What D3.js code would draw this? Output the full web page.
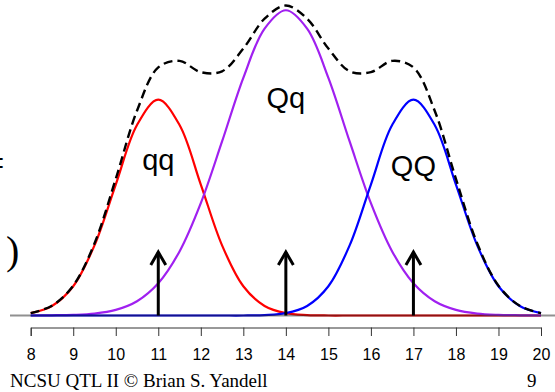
<!DOCTYPE html>
<html>
<head>
<meta charset="utf-8">
<script src="https://cdn.jsdelivr.net/npm/d3@7"></script>
<style>
  body { margin: 0; background: #fff; }
  svg { display: block; }
</style>
</head>
<body>
<svg width="555" height="392"></svg>
<script>
// genotype densities, x = 8..20 in steps of 0.5
var xs = [8, 8.5, 9, 9.5, 10, 10.5, 11, 11.5, 12, 12.5, 13, 13.5, 14,
          14.5, 15, 15.5, 16, 16.5, 17, 17.5, 18, 18.5, 19, 19.5, 20];
var qqDens = [0.0011, 0.0044, 0.0135, 0.0324, 0.0605, 0.0880, 0.0997, 0.0880, 0.0605, 0.0324, 0.0135, 0.0044, 0.0011,
              0.0002, 0, 0, 0, 0, 0, 0, 0, 0, 0, 0, 0];
var QqDens = [0.0000, 0.0001, 0.0003, 0.0009, 0.0026, 0.0066, 0.0149, 0.0296, 0.0519, 0.0804, 0.1098, 0.1325, 0.1410,
              0.1325, 0.1098, 0.0804, 0.0519, 0.0296, 0.0149, 0.0066, 0.0026, 0.0009, 0.0003, 0.0001, 0.0000];
var QQDens = [0, 0, 0, 0, 0, 0, 0, 0, 0, 0, 0, 0.0002, 0.0011,
              0.0044, 0.0135, 0.0324, 0.0605, 0.0880, 0.0997, 0.0880, 0.0605, 0.0324, 0.0135, 0.0044, 0.0011];
var totalDens = [0.0011, 0.0045, 0.0138, 0.0333, 0.0631, 0.0946, 0.1146, 0.1176, 0.1124, 0.1128, 0.1233, 0.1371, 0.1432,
                 0.1371, 0.1233, 0.1128, 0.1124, 0.1176, 0.1146, 0.0946, 0.0631, 0.0333, 0.0138, 0.0045, 0.0011];

var genoNames = ["qq", "Qq", "QQ"];
var genoMeans = [11, 14, 17];
var arrowHeight = 0.0293;
var xTicks = [8, 9, 10, 11, 12, 13, 14, 15, 16, 17, 18, 19, 20];

var svg = d3.select("svg");

var x = d3.scaleLinear().domain([8, 20]).range([30.7, 541]);
var y = d3.scaleLinear().domain([0, 0.145]).range([315.5, 1.6]);

var line = d3.line()
    .x(function (d, i) { return x(xs[i]); })
    .y(function (d) { return Math.min(y(0), y(d)); })
    .curve(d3.curveCatmullRom.alpha(0.5));

var curves = [
    { vals: qqDens, color: "#ff0000" },
    { vals: QqDens, color: "#a020f0" },
    { vals: QQDens, color: "#0000ff" }
];

svg.selectAll(".dens")
    .data(curves)
    .enter().append("path")
    .attr("class", "dens")
    .attr("d", function (d) { return line(d.vals); })
    .attr("fill", "none")
    .attr("stroke", function (d) { return d.color; })
    .attr("stroke-width", 2.2);

// mixture total, dashed
svg.append("path")
    .attr("d", line(totalDens))
    .attr("fill", "none")
    .attr("stroke", "#000")
    .attr("stroke-width", 2.4)
    .attr("stroke-dasharray", "9,5");

// zero line
svg.append("line")
    .attr("x1", 10).attr("x2", 555)
    .attr("y1", y(0)).attr("y2", y(0))
    .attr("stroke", "#222")
    .attr("stroke-opacity", 0.5)
    .attr("stroke-width", 2);

// arrows at the genotype means
var arrows = svg.selectAll(".arrow")
    .data(genoMeans)
    .enter().append("g")
    .attr("class", "arrow");

arrows.append("line")
    .attr("x1", function (d) { return x(d); })
    .attr("x2", function (d) { return x(d); })
    .attr("y1", y(0))
    .attr("y2", y(arrowHeight))
    .attr("stroke", "#000")
    .attr("stroke-width", 3);

arrows.append("path")
    .attr("d", function (d) {
        var cx = x(d), ty = y(arrowHeight);
        return "M" + (cx - 7.5) + "," + (ty + 13) + "L" + cx + "," + ty + "L" + (cx + 7.5) + "," + (ty + 13);
    })
    .attr("fill", "none")
    .attr("stroke", "#000")
    .attr("stroke-width", 3);

// genotype labels
var labelBase = [170, 108, 176];
svg.selectAll(".glab")
    .data(genoNames)
    .enter().append("text")
    .attr("class", "glab")
    .attr("x", function (d, i) { return x(genoMeans[i]); })
    .attr("y", function (d, i) { return labelBase[i]; })
    .attr("text-anchor", "middle")
    .attr("font-family", "Liberation Sans, Arial, sans-serif")
    .attr("font-size", 29)
    .attr("fill", "#000")
    .text(function (d) { return d; });

// x axis
var gx = svg.append("g")
    .attr("transform", "translate(0,327.5)")
    .call(d3.axisBottom(x).tickValues(xTicks).tickFormat(d3.format("d"))
        .tickSizeOuter(0).tickSize(8.5).tickPadding(12.5));
gx.selectAll("path, line").attr("stroke", "#333");
gx.selectAll("text")
    .attr("font-family", "Liberation Sans, Arial, sans-serif")
    .attr("font-size", 16)
    .attr("fill", "#000");

// bits of slide text cut off at the left edge
svg.append("text")
    .attr("x", -18).attr("y", 177)
    .attr("font-family", "Liberation Serif, Times New Roman, serif")
    .attr("font-size", 40)
    .text("=");
svg.append("text")
    .attr("x", 6).attr("y", 264)
    .attr("font-family", "Liberation Serif, Times New Roman, serif")
    .attr("font-size", 40)
    .text(")");

// footer
svg.append("text")
    .attr("x", 10).attr("y", 387)
    .attr("font-family", "Liberation Serif, Times New Roman, serif")
    .attr("font-size", 19)
    .text("NCSU QTL II \u00a9 Brian S. Yandell");
svg.append("text")
    .attr("x", 527).attr("y", 387)
    .attr("font-family", "Liberation Serif, Times New Roman, serif")
    .attr("font-size", 19)
    .text("9");
</script>
</body>
</html>
